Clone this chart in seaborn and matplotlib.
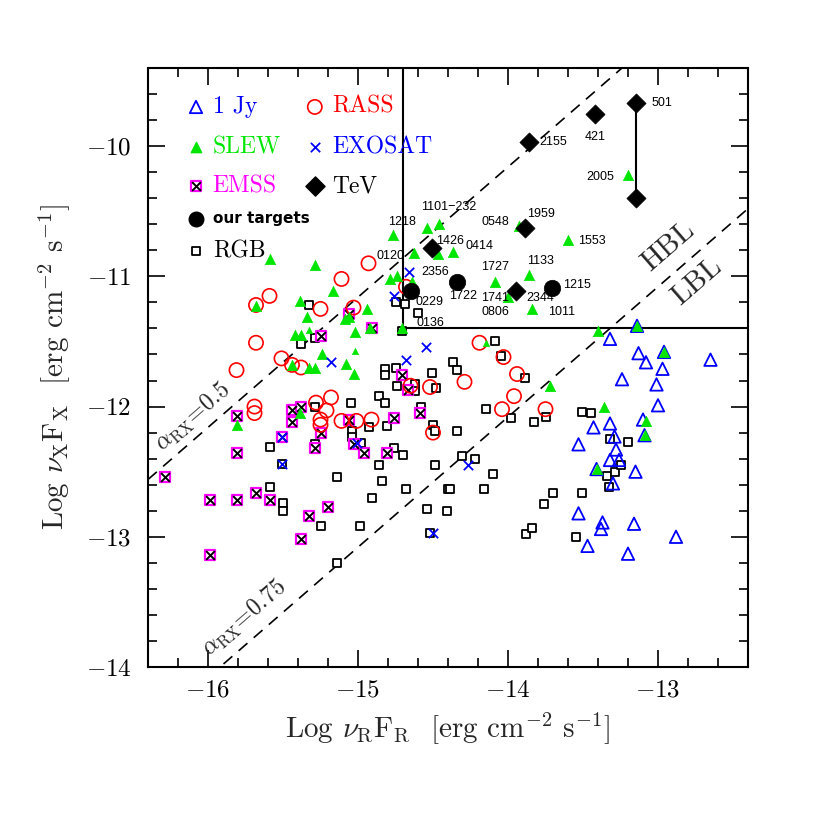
import matplotlib
matplotlib.use("Agg")
import matplotlib.pyplot as plt
import seaborn as sns
import pandas as pd
from matplotlib.ticker import MultipleLocator

# ---------------- data (log nuR FR , log nuX FX) ----------------
jy_x = [-13.14, -12.96, -13.10, -13.09, -13.41, -13.32, -13.13, -13.08, -12.97, -12.65,
        -13.24, -13.01, -13.00, -13.43, -13.32, -13.29, -13.53, -13.28, -13.32, -13.26,
        -13.15, -13.30, -13.53, -13.47, -13.20, -12.88, -13.38, -13.37, -13.16]
jy_y = [-11.38, -11.58, -12.10, -12.22, -12.48, -11.48, -11.59, -11.66, -11.71, -11.64,
        -11.79, -11.83, -11.99, -12.16, -12.13, -12.23, -12.29, -12.33, -12.41, -12.41,
        -12.50, -12.59, -12.82, -13.07, -13.13, -13.00, -12.94, -12.89, -12.90]

slew_x = [-15.59, -15.29, -15.17, -15.39, -15.34, -15.68, -15.06, -14.94, -15.09, -14.79,
          -14.74, -14.64, -15.42, -15.38, -15.02, -14.92, -14.71, -15.24, -15.44, -15.33,
          -15.29, -15.08, -15.03, -15.39, -15.81,
          -13.84, -13.40, -13.14, -12.96, -13.36, -13.72, -13.08, -13.09, -13.41,
          -13.20, -14.77, -14.54, -14.46, -14.63, -14.47, -14.37, -14.09, -13.86, -13.93,
          -13.60, -14.00]
slew_y = [-10.87, -10.91, -11.11, -11.19, -11.31, -11.23, -11.31, -11.25, -11.33, -11.02,
          -11.00, -11.04, -11.45, -11.45, -11.43, -11.40, -11.40, -11.60, -11.68, -11.70,
          -11.70, -11.67, -11.75, -12.05, -12.14,
          -11.25, -11.42, -11.38, -11.58, -12.00, -11.84, -12.11, -12.22, -12.48,
          -10.22, -10.68, -10.63, -10.60, -10.82, -10.83, -10.81, -11.04, -10.99, -10.61,
          -10.72, -11.16]
slew_small_x = [-15.33, -15.02, -14.15]
slew_small_y = [-11.41, -11.57, -11.51]

rass_x = [-14.93, -15.11, -15.59, -15.68, -15.25, -15.03, -15.68, -15.51, -15.44, -15.38,
          -15.81, -14.68, -15.69, -15.69, -15.18, -15.28, -15.21, -15.25, -15.25, -15.11,
          -15.01, -14.91, -14.65, -14.52, -14.50, -14.29, -14.19, -14.03, -13.94, -13.96,
          -14.04, -13.75]
rass_y = [-10.90, -11.02, -11.15, -11.22, -11.25, -11.24, -11.51, -11.63, -11.68, -11.70,
          -11.72, -11.08, -12.00, -12.05, -11.93, -11.97, -12.03, -12.10, -12.14, -12.11,
          -12.11, -12.10, -11.84, -11.85, -12.20, -11.81, -11.51, -11.62, -11.75, -11.92,
          -12.02, -12.02]

exosat_x = [-14.66, -14.76, -15.18, -14.68, -14.55, -15.51, -15.01, -15.51, -14.50, -14.27]
exosat_y = [-10.97, -11.15, -11.66, -11.64, -11.54, -12.23, -12.28, -12.44, -12.97, -12.45]

emss_x = [-15.25, -15.06, -14.91, -14.71, -14.67, -15.81, -15.44, -15.38, -15.44, -15.06,
          -14.76, -14.59, -15.25, -15.51, -15.81, -15.29, -15.03, -14.96, -14.81,
          -16.29, -15.99, -15.81, -15.68, -15.59, -15.20, -15.33, -15.38, -15.99]
emss_y = [-11.46, -11.29, -11.40, -11.76, -11.87, -12.07, -12.03, -12.00, -12.12, -12.10,
          -12.09, -12.05, -12.20, -12.23, -12.36, -12.32, -12.29, -12.36, -12.36,
          -12.54, -12.72, -12.72, -12.66, -12.72, -12.77, -12.84, -13.02, -13.14]

rgb_x = [-15.33, -15.38, -15.29, -14.75, -14.69, -14.71, -14.60, -14.82, -14.82, -14.75,
         -14.74, -14.51, -14.62, -14.62, -14.48, -14.86, -14.82, -15.05, -15.29, -14.58,
         -14.81, -14.93, -15.04, -15.04, -14.50, -14.49, -15.59, -15.29, -14.98, -14.76,
         -14.70,
         -15.51, -15.14, -14.86, -14.84, -14.49, -14.68, -14.40, -15.59, -15.50, -15.50,
         -14.91, -15.25, -14.99, -14.54, -14.41, -14.52, -15.14,
         -14.37, -14.34, -14.09, -14.05, -13.89, -14.15, -13.98, -13.83, -13.75, -13.51,
         -13.45, -13.32, -13.20, -13.34, -13.29, -13.25, -13.33, -13.51, -13.70, -13.76,
         -14.10, -14.16, -14.31, -14.22, -14.34, -14.39,
         -13.88, -13.84, -13.55]
rgb_y = [-11.22, -11.52, -11.47, -11.20, -11.21, -11.42, -11.28, -11.71, -11.76, -11.70,
         -11.84, -11.74, -11.83, -11.88, -11.86, -11.92, -11.97, -11.97, -12.00, -12.00,
         -12.15, -12.16, -12.19, -12.23, -12.14, -12.19, -12.31, -12.29, -12.28, -12.32,
         -12.37,
         -12.44, -12.54, -12.45, -12.57, -12.45, -12.63, -12.63, -12.62, -12.74, -12.80,
         -12.70, -12.92, -12.92, -12.79, -12.80, -12.97, -13.20,
         -11.66, -11.72, -11.50, -11.61, -11.78, -12.02, -12.09, -12.12, -12.08, -12.04,
         -12.05, -12.25, -12.27, -12.53, -12.50, -12.45, -12.62, -12.66, -12.66, -12.75,
         -12.52, -12.63, -12.38, -12.40, -12.19, -12.63,
         -12.98, -12.93, -13.00]

# TeV sources: 501 (high), 501 (low), 421, 2155, 1959, 1426, 2344
tev_x = [-13.15, -13.15, -13.42, -13.86, -13.89, -14.51, -13.95]
tev_y = [-9.67, -10.40, -9.75, -9.97, -10.63, -10.78, -11.11]

# our targets: 0229, 1722, 1215
tgt_x = [-14.65, -14.34, -13.71]
tgt_y = [-11.11, -11.04, -11.09]

# source names with label anchor (x, y, ha)
names = ["501", "421", "2155", "2005", "1959", "0548", "1553", "1101\u2212232", "1218",
         "1426", "0414", "0120", "2356", "1727", "1133", "1215", "1722", "1741", "2344",
         "0806", "1011", "0229", "0136"]
name_x = [-13.04, -13.42, -13.79, -13.29, -13.87, -13.99, -13.53, -14.58, -14.80,
          -14.48, -14.28, -14.69, -14.58, -14.18, -13.87, -13.63, -14.39, -14.18, -13.88,
          -14.18, -13.73, -14.62, -14.61]
name_y = [-9.67, -9.93, -9.97, -10.24, -10.52, -10.58, -10.73, -10.47, -10.58,
          -10.73, -10.77, -10.84, -10.97, -10.93, -10.88, -11.07, -11.15, -11.17, -11.17,
          -11.27, -11.27, -11.20, -11.36]
name_ha = ["left", "center", "left", "right", "left", "right", "left", "left", "left",
           "left", "left", "right", "left", "left", "left", "left", "left", "left", "left",
           "left", "left", "left", "left"]

alpha_offsets = [3.84, 1.92]   # log(nuX FX) - log(nuR FR) for alpha_RX = 0.5, 0.75
box_x, box_y = -14.7, -11.4

# ---------------- style ----------------
sns.set_style("ticks")
plt.rcParams.update({
    "font.family": "serif",
    "font.serif": ["cmr10"],
    "mathtext.fontset": "cm",
    "axes.formatter.use_mathtext": True,
    "axes.linewidth": 1.5,
    "xtick.direction": "in", "ytick.direction": "in",
    "xtick.top": True, "ytick.right": True,
    "xtick.major.size": 12.5, "ytick.major.size": 12.5,
    "xtick.minor.size": 6.5, "ytick.minor.size": 6.5,
    "xtick.major.width": 1.2, "ytick.major.width": 1.2,
    "xtick.minor.width": 1.2, "ytick.minor.width": 1.2,
    "xtick.color": "black", "ytick.color": "black",
    "axes.edgecolor": "black",
})

BLUE, RED, GREEN, MAG = "#0000ff", "#ff0000", "#00e600", "#ff00ff"

fig = plt.figure(figsize=(8.17, 8.17), dpi=100)
ax = fig.add_axes([148 / 817, 150 / 817, 600 / 817, 599 / 817])

def frame(x, y):
    return pd.DataFrame({"x": x, "y": y})

common = dict(x="x", y="y", ax=ax, legend=False)
sns.scatterplot(data=frame(rgb_x, rgb_y), marker="s", s=38, facecolor="white",
                edgecolor="black", linewidth=1.3, zorder=3, **common)
sns.scatterplot(data=frame(emss_x, emss_y), marker="s", s=60, facecolor="white",
                edgecolor=MAG, linewidth=1.6, zorder=4, **common)
sns.scatterplot(data=frame(emss_x, emss_y), marker="x", s=40, color="black",
                linewidth=1.4, zorder=4, **common)
sns.scatterplot(data=frame(rass_x, rass_y), marker="o", s=105, facecolor="none",
                edgecolor=RED, linewidth=1.2, zorder=5, **common)
sns.scatterplot(data=frame(jy_x, jy_y), marker="^", s=80, facecolor="none",
                edgecolor=BLUE, linewidth=1.3, zorder=5, **common)
sns.scatterplot(data=frame(slew_x, slew_y), marker="^", s=55, color=GREEN,
                edgecolor=GREEN, linewidth=0.5, zorder=6, **common)
sns.scatterplot(data=frame(slew_small_x, slew_small_y), marker="^", s=20, color=GREEN,
                edgecolor=GREEN, linewidth=0.5, zorder=6, **common)
sns.scatterplot(data=frame(exosat_x, exosat_y), marker="x", s=45, color=BLUE,
                linewidth=1.3, zorder=7, **common)

# 501 variability line
ax.plot(tev_x[:2], tev_y[:2], color="black", lw=1.5, zorder=7)
sns.scatterplot(data=frame(tev_x, tev_y), marker="D", s=95, color="black",
                edgecolor="black", linewidth=0.5, zorder=8, **common)
sns.scatterplot(data=frame(tgt_x, tgt_y), marker="o", s=140, color="black",
                edgecolor="black", linewidth=0.5, zorder=8, **common)

# alpha_RX lines
xl = (-16.4, -12.4)
yl = (-14.0, -9.4)
for off in alpha_offsets:
    ax.plot(xl, [xl[0] + off, xl[1] + off], color="black", lw=1.2,
            dashes=(7, 5), zorder=2)

# selection box
ax.plot([box_x, box_x], [box_y, yl[1]], color="black", lw=1.5, zorder=2)
ax.plot([box_x, xl[1]], [box_y, box_y], color="black", lw=1.5, zorder=2)

ax.set_xlim(*xl)
ax.set_ylim(*yl)
ax.xaxis.set_major_locator(MultipleLocator(1))
ax.xaxis.set_minor_locator(MultipleLocator(0.2))
ax.yaxis.set_major_locator(MultipleLocator(1))
ax.yaxis.set_minor_locator(MultipleLocator(0.2))
ax.tick_params(axis="both", which="major", labelsize=18)
ax.tick_params(axis="y", which="major", pad=12)
ax.tick_params(axis="x", which="major", pad=9)

ax.set_xlabel(r"Log $\nu_{\rm R}$F$_{\rm R}$  [erg cm$^{-2}$ s$^{-1}$]", fontsize=21,
              labelpad=6)
ax.set_ylabel(r"Log $\nu_{\rm X}$F$_{\rm X}$  [erg cm$^{-2}$ s$^{-1}$]", fontsize=21,
              labelpad=10)

# source names
for n, x, y, ha in zip(names, name_x, name_y, name_ha):
    ax.text(x, y, n, ha=ha, va="center", fontsize=9, family="Liberation Sans",
            color="black", zorder=9)

# rotated annotations
ax.text(-12.93, -10.77, "HBL", rotation=41, ha="center", va="center", fontsize=21)
ax.text(-12.74, -11.04, "LBL", rotation=41, ha="center", va="center", fontsize=21)
ax.text(-16.10, -12.08, r"$\alpha_{\rm RX}\!=\!0.5$", rotation=41, ha="center",
        va="center", fontsize=17)
ax.text(-15.76, -13.62, r"$\alpha_{\rm RX}\!=\!0.75$", rotation=41, ha="center",
        va="center", fontsize=17)

# legend block
T = ax.transAxes
mx1, tx1, mx2, tx2 = 0.08, 0.108, 0.278, 0.307
rows = [0.935, 0.868, 0.803, 0.748, 0.694]
ax.scatter([mx1], [rows[0]], transform=T, marker="^", s=80, facecolor="none",
           edgecolor=BLUE, linewidth=1.3, zorder=9)
ax.text(tx1, rows[0], "1 Jy", transform=T, color=BLUE, fontsize=17, va="center")
ax.scatter([mx2], [rows[0]], transform=T, marker="o", s=105, facecolor="none",
           edgecolor=RED, linewidth=1.2, zorder=9)
ax.text(tx2, rows[0], "RASS", transform=T, color=RED, fontsize=17, va="center")
ax.scatter([mx1], [rows[1]], transform=T, marker="^", s=55, color=GREEN, zorder=9)
ax.text(tx1, rows[1], "SLEW", transform=T, color=GREEN, fontsize=17, va="center")
ax.scatter([mx2], [rows[1]], transform=T, marker="x", s=45, color=BLUE,
           linewidth=1.3, zorder=9)
ax.text(tx2, rows[1], "EXOSAT", transform=T, color=BLUE, fontsize=17, va="center")
ax.scatter([mx1], [rows[2]], transform=T, marker="s", s=60, facecolor="white",
           edgecolor=MAG, linewidth=1.6, zorder=9)
ax.scatter([mx1], [rows[2]], transform=T, marker="x", s=40, color="black",
           linewidth=1.4, zorder=9)
ax.text(tx1, rows[2], "EMSS", transform=T, color=MAG, fontsize=17, va="center")
ax.scatter([mx2], [rows[2]], transform=T, marker="D", s=95, color="black", zorder=9)
ax.text(tx2, rows[2], "TeV", transform=T, color="black", fontsize=17, va="center")
ax.scatter([mx1], [rows[3]], transform=T, marker="o", s=110, color="black", zorder=9)
ax.text(tx1, rows[3], "our targets", transform=T, color="black", fontsize=11,
        va="center", family="DejaVu Sans", weight="bold")
ax.scatter([mx1], [rows[4]], transform=T, marker="s", s=38, facecolor="white",
           edgecolor="black", linewidth=1.3, zorder=9)
ax.text(tx1, rows[4], "RGB", transform=T, color="black", fontsize=17, va="center")

fig.savefig("out.png", dpi=100)
